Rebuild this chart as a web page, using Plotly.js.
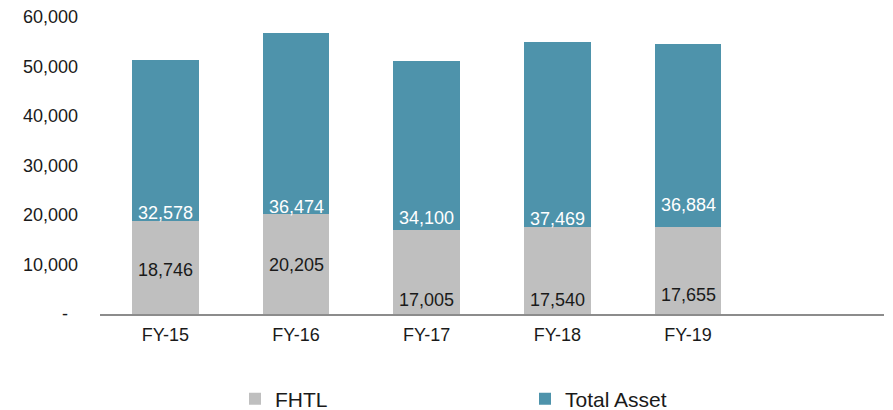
<!DOCTYPE html>
<html>
<head>
<meta charset="utf-8">
<script src="https://cdn.plot.ly/plotly-3.0.1.min.js"></script>
<style>html,body{margin:0;padding:0;background:#fff;}#chart{width:893px;height:410px;}</style>
</head>
<body>
<div id="chart"></div>
<script>
// Data
const categories = ['FY-15', 'FY-16', 'FY-17', 'FY-18', 'FY-19', ' '];
const fhtl = [18746, 20205, 17005, 17540, 17655, null];
const totalAsset = [32578, 36474, 34100, 37469, 36884, null];
const yTickVals = [0, 10000, 20000, 30000, 40000, 50000, 60000];
const yTickText = ['-\u00a0\u00a0', '10,000', '20,000', '30,000', '40,000', '50,000', '60,000'];

// Styles (label pixel offsets, not data)
const fhtlLabelShift = [44.5, 49.5, 14, 14, 19.5];
const taLabelShift = [8.7, 7, 12.3, 8.2, 22];

const fmt = v => v.toLocaleString('en-US');
const font = 'Liberation Sans, Arial, sans-serif';

const traces = [
  {
    type: 'bar', name: 'FHTL', x: categories, y: fhtl,
    marker: {color: '#BFBFBF', line: {width: 0}},
    width: 0.51, hoverinfo: 'skip'
  },
  {
    type: 'bar', name: 'Total Asset', x: categories, y: totalAsset,
    marker: {color: '#4E93AB', line: {width: 0}},
    width: 0.51, hoverinfo: 'skip'
  }
];

const annotations = [];
categories.forEach((c, i) => {
  if (fhtl[i] == null) return;
  annotations.push({
    x: c, y: 0, xref: 'x', yref: 'y', text: fmt(fhtl[i]), showarrow: false,
    yanchor: 'middle', yshift: fhtlLabelShift[i],
    font: {family: font, size: 18, color: '#1a1a1a'}
  });
  annotations.push({
    x: c, y: fhtl[i], xref: 'x', yref: 'y', text: fmt(totalAsset[i]), showarrow: false,
    yanchor: 'middle', yshift: taLabelShift[i],
    font: {family: font, size: 18, color: '#ffffff'}
  });
});

const layout = {
  width: 893, height: 410,
  margin: {l: 100, r: 9, t: 17, b: 96},
  paper_bgcolor: '#ffffff', plot_bgcolor: '#ffffff',
  barmode: 'stack',
  font: {family: font, size: 18, color: '#1a1a1a'},
  xaxis: {
    type: 'category', range: [-0.5, 5.5],
    showline: true, linecolor: '#8c8c8c', linewidth: 2,
    ticks: '', showgrid: false, zeroline: false,
    tickfont: {family: font, size: 18, color: '#1a1a1a'},
    ticklabelstandoff: 3, fixedrange: true
  },
  yaxis: {
    range: [0, 60000], tickvals: yTickVals, ticktext: yTickText,
    showgrid: false, zeroline: false, showline: false, ticks: '',
    tickfont: {family: font, size: 18, color: '#1a1a1a'},
    ticklabelstandoff: 21, fixedrange: true
  },
  showlegend: true,
  legend: {
    orientation: 'h', x: 235 / 893, xanchor: 'left', xref: 'container',
    y: 11 / 410, yanchor: 'middle', yref: 'container',
    font: {family: font, size: 21, color: '#1a1a1a'},
    entrywidth: 245, entrywidthmode: 'pixels',
    traceorder: 'normal', itemclick: false, itemdoubleclick: false
  },
  annotations: annotations
};

Plotly.newPlot('chart', traces, layout, {displayModeBar: false, staticPlot: true});
</script>
</body>
</html>
